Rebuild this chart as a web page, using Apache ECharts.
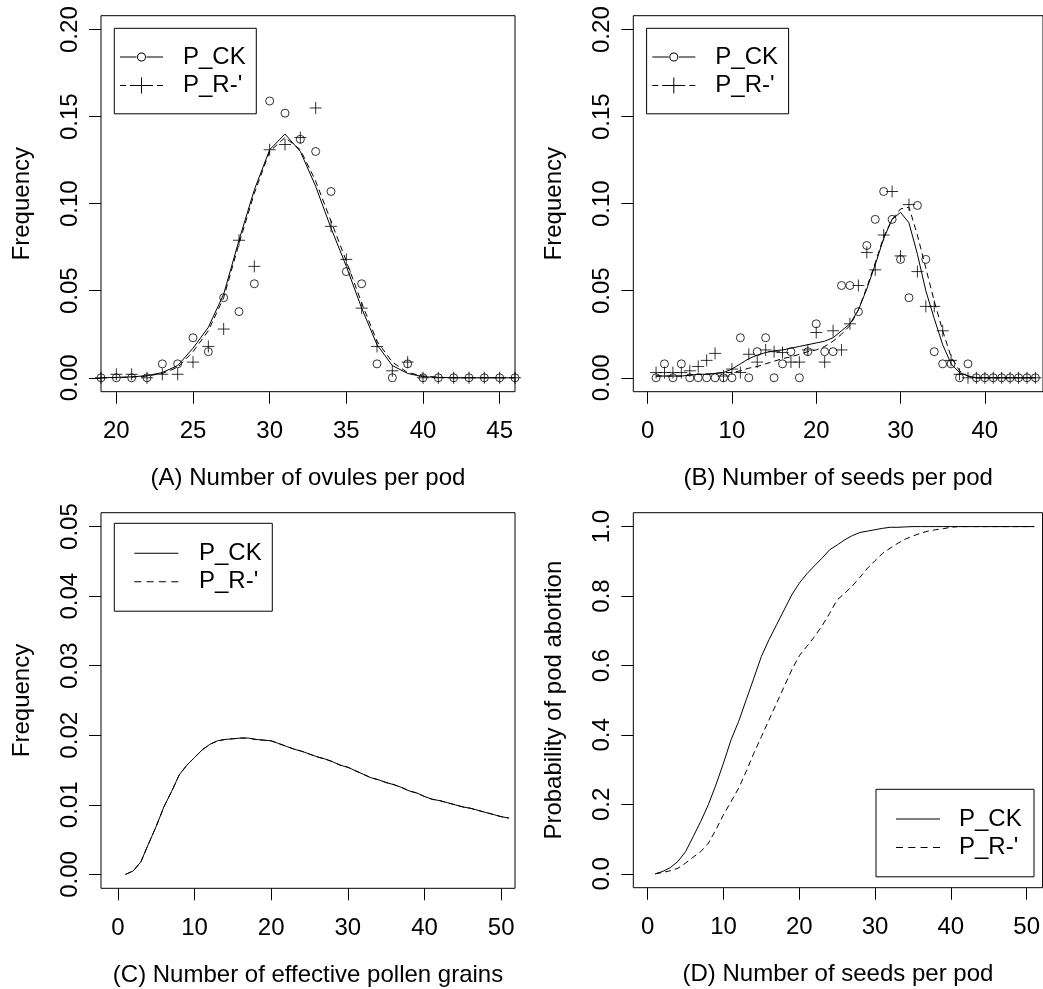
<!DOCTYPE html>
<html><head><meta charset="utf-8">
<script src="https://cdn.jsdelivr.net/npm/echarts@6/dist/echarts.min.js"></script>
<style>html,body{margin:0;padding:0;background:#fff}#c{width:1043px;height:989px}</style>
</head><body><div id="c"></div><script>
// ---------- DATA ----------
const ovuleX = [19,20,21,22,23,24,25,26,27,28,29,30,31,32,33,34,35,36,37,38,39,40,41,42,43,44,45,46];
const ovuleObsCK = [0,0,0,0,0.008,0.008,0.023,0.015,0.046,0.038,0.054,0.159,0.152,0.137,0.130,0.107,0.061,0.054,0.008,0,0.008,0,0,0,0,0,0,0];
const ovuleObsR  = [0,0.002,0.002,0,0.002,0.002,0.009,0.018,0.028,0.079,0.064,0.131,0.134,0.138,0.155,0.087,0.068,0.040,0.018,0.004,0.009,0,0,0,0,0,0,0];
const ovuleFitCK = [0,0.0002,0.0005,0.0012,0.003,0.007,0.017,0.029,0.048,0.079,0.108,0.131,0.140,0.130,0.110,0.086,0.064,0.040,0.019,0.007,0.0025,0.0006,0.0002,0,0,0,0,0];
const ovuleFitR  = [0,0.0001,0.0004,0.001,0.0025,0.006,0.015,0.027,0.046,0.077,0.106,0.130,0.138,0.131,0.113,0.090,0.067,0.043,0.021,0.009,0.003,0.001,0.0003,0,0,0,0,0];

const seedX = [1,2,3,4,5,6,7,8,9,10,11,12,13,14,15,16,17,18,19,20,21,22,23,24,25,26,27,28,29,30,31,32,33,34,35,36,37,38,39,40,41,42,43,44,45,46];
const seedObsCK = [0,0.008,0,0.008,0,0,0,0,0,0,0.023,0,0.015,0.023,0,0.008,0.015,0,0.015,0.031,0.015,0.015,0.053,0.053,0.038,0.076,0.091,0.107,0.091,0.068,0.046,0.099,0.068,0.015,0.008,0.008,0,0.008,0,0,0,0,0,0,0,0];
const seedObsR  = [0.003,0.003,0.003,0.003,0.004,0.0065,0.010,0.014,0.001,0.005,0.003,0.0135,0.009,0.016,0.015,0.0145,0.009,0.009,0.016,0.026,0.009,0.027,0.016,0.031,0.053,0.072,0.062,0.082,0.107,0.070,0.0995,0.061,0.041,0.041,0.027,0.010,0.002,0,0,0,0,0,0,0,0,0];
const seedFitCK = [0.001,0.001,0.001,0.001,0.0015,0.002,0.002,0.0025,0.003,0.005,0.008,0.011,0.013,0.0145,0.0155,0.016,0.017,0.018,0.019,0.020,0.021,0.023,0.027,0.031,0.039,0.051,0.065,0.080,0.091,0.095,0.089,0.071,0.050,0.034,0.019,0.008,0.003,0.001,0,0,0,0,0,0,0,0];
const seedFitR  = [0.001,0.001,0.001,0.001,0.0015,0.002,0.002,0.0025,0.003,0.003,0.004,0.0055,0.0065,0.008,0.0095,0.011,0.012,0.0135,0.015,0.016,0.018,0.021,0.025,0.030,0.039,0.052,0.066,0.081,0.091,0.097,0.098,0.082,0.063,0.044,0.027,0.012,0.004,0.001,0,0,0,0,0,0,0,0];

const pollenX = [1,2,3,4,5,6,7,8,9,10,11,12,13,14,15,16,17,18,19,20,21,22,23,24,25,26,27,28,29,30,31,32,33,34,35,36,37,38,39,40,41,42,43,44,45,46,47,48,49,50,51];
const pollenCK = [0,0.0005,0.0018,0.0044,0.0069,0.0097,0.0119,0.0143,0.0157,0.0168,0.0179,0.0187,0.0192,0.0194,0.0195,0.0196,0.0196,0.0194,0.0193,0.0192,0.0188,0.0184,0.0180,0.0177,0.0173,0.0169,0.0166,0.0162,0.0157,0.0154,0.0149,0.0144,0.0139,0.0136,0.0132,0.0129,0.0125,0.0120,0.0117,0.0112,0.0108,0.0106,0.0103,0.0100,0.0097,0.0095,0.0092,0.0089,0.0086,0.0083,0.0081];
const pollenR  = [0,0.0005,0.0018,0.0044,0.0069,0.0097,0.0119,0.0143,0.0157,0.0168,0.0179,0.0187,0.0192,0.0194,0.0195,0.0196,0.0196,0.0194,0.0193,0.0192,0.0188,0.0184,0.0180,0.0177,0.0173,0.0169,0.0166,0.0162,0.0157,0.0154,0.0149,0.0144,0.0139,0.0136,0.0132,0.0129,0.0125,0.0120,0.0117,0.0112,0.0108,0.0106,0.0103,0.0100,0.0097,0.0095,0.0092,0.0089,0.0086,0.0083,0.0081];

const abortX = [1,2,3,4,5,6,7,8,9,10,11,12,13,14,15,16,17,18,19,20,21,22,23,24,25,26,27,28,29,30,31,32,33,34,35,36,37,38,39,40,41,42,43,44,45,46,47,48,49,50,51];
const abortCK = [0,0.007,0.018,0.036,0.064,0.107,0.151,0.199,0.256,0.319,0.386,0.439,0.501,0.563,0.626,0.674,0.717,0.760,0.803,0.837,0.864,0.887,0.909,0.933,0.947,0.962,0.974,0.983,0.987,0.991,0.995,0.998,0.998,0.999,1,1,1,1,1,1,1,1,1,1,1,1,1,1,1,1,1];
const abortR  = [0,0.004,0.009,0.016,0.031,0.048,0.064,0.088,0.127,0.170,0.208,0.247,0.295,0.347,0.395,0.443,0.491,0.539,0.587,0.628,0.655,0.683,0.714,0.750,0.789,0.808,0.829,0.854,0.880,0.902,0.923,0.938,0.952,0.964,0.973,0.981,0.987,0.991,0.994,0.998,1,1,1,1,1,1,1,1,1,1,1];

const ticksAx = [20,25,30,35,40,45];
const ticksBx = [0,10,20,30,40];
const ticksCDx = [0,10,20,30,40,50];
const ticksABy = [0,0.05,0.10,0.15,0.20];
const ticksCy = [0,0.01,0.02,0.03,0.04,0.05];
const ticksDy = [0,0.2,0.4,0.6,0.8,1.0];

const seriesNames = ['P_CK', "P_R-'"];
const titles = ['(A) Number of ovules per pod','(B) Number of seeds per pod','(C) Number of effective pollen grains','(D) Number of seeds per pod'];
const yTitles = ['Frequency','Frequency','Frequency','Probability of pod abortion'];

// ---------- CHART ----------
const font = 'Liberation Sans, Arial, sans-serif';
const pairs = (xs, ys) => xs.map((x, i) => [x, ys[i]]);
const DASH = [6, 4];

function xAx(g, min, max, ticks, name) {
  return { type:'value', gridIndex:g, min:min, max:max, name:name, nameLocation:'middle', nameGap:75,
    nameTextStyle:{fontSize:24, fontFamily:font, color:'#000'},
    axisLine:{show:false, onZero:false}, splitLine:{show:false},
    axisTick:{show:true, length:12, customValues:ticks, lineStyle:{color:'#000', width:1}},
    axisLabel:{customValues:ticks, margin:28, fontSize:24, fontFamily:font, color:'#000'} };
}
function yAx(g, min, max, ticks, name, dec) {
  return { type:'value', gridIndex:g, min:min, max:max, name:name, nameLocation:'middle', nameGap:67, nameRotate:90,
    nameTextStyle:{fontSize:24, fontFamily:font, color:'#000'},
    axisLine:{show:false, onZero:false}, splitLine:{show:false},
    axisTick:{show:true, length:12, customValues:ticks, lineStyle:{color:'#000', width:1}},
    axisLabel:{customValues:ticks, rotate:90, margin:19, fontSize:24, fontFamily:font, color:'#000',
      formatter: v => Number(v).toFixed(dec)} };
}
function lineS(name, g, xs, ys, dashed) {
  return { type:'line', name:name, xAxisIndex:g, yAxisIndex:g, data:pairs(xs, ys), showSymbol:false, symbol:'none',
    silent:true, itemStyle:{color:'#000'}, lineStyle:{color:'#000', width:1, type: dashed ? DASH : 'solid'} };
}
const circleItem = {color:'transparent', borderColor:'#000', borderWidth:1};
function scatS(name, g, xs, ys, plus) {
  return { type:'scatter', name:name, xAxisIndex:g, yAxisIndex:g, data:pairs(xs, ys), silent:true,
    symbol: plus ? 'path://M0,6L12,6M6,0L6,12' : 'circle', symbolSize: plus ? 12 : 8, itemStyle:circleItem };
}
const iconCK = 'path://M0,6.5h16.5v1h-16.5z M26.5,6.5h16.5v1h-16.5z M17,7a4.5,4.5 0 1,0 9,0a4.5,4.5 0 1,0 -9,0z M18,7a3.5,3.5 0 1,1 7,0a3.5,3.5 0 1,1 -7,0z';
const iconR = 'path://M0,6.5h6v1h-6z M10,6.5h5v1h-5z M28,6.5h5v1h-5z M37,6.5h6v1h-6z M13.5,6.5h16v1h-16z M21,-1h1v16h-1z';
const iconLine = 'path://M0,0h44v1h-44z';
const iconDash = 'path://M0,0h7v1h-7z M12.3,0h7v1h-7z M24.6,0h7v1h-7z M37,0h7v1h-7z';

function legend(left, top, padding, iw, textPad, icons) {
  return { left:left, top:top, orient:'vertical', padding:padding, itemGap:0, itemWidth:iw, itemHeight:28.5,
    borderColor:'#000', borderWidth:1, borderRadius:0, selectedMode:false,
    textStyle:{fontSize:24, fontFamily:font, color:'#000', lineHeight:28.5, padding:[0,0,0,textPad]},
    itemStyle:{color:'#000', borderWidth:0},
    data:[{name:seriesNames[0], icon:icons[0]}, {name:seriesNames[1], icon:icons[1]}] };
}

const grids = [
  {left:101, top:15.7, width:414, height:376},
  {left:633.3, top:15.7, width:414, height:376},
  {left:101, top:512.7, width:414, height:375.6},
  {left:633.3, top:512.7, width:414, height:375}
].map(g => Object.assign({show:true, borderColor:'#000', borderWidth:1, backgroundColor:'transparent'}, g));

const option = {
  animation:false,
  backgroundColor:'#fff',
  grid: grids,
  xAxis: [
    xAx(0, 19, 46, ticksAx, titles[0]),
    xAx(1, -1.7, 46.9, ticksBx, titles[1]),
    xAx(2, -2.2, 51.8, ticksCDx, titles[2]),
    xAx(3, -1.9, 52.1, ticksCDx, titles[3])
  ],
  yAxis: [
    yAx(0, -0.008, 0.208, ticksABy, yTitles[0], 2),
    yAx(1, -0.008, 0.208, ticksABy, yTitles[1], 2),
    yAx(2, -0.002, 0.052, ticksCy, yTitles[2], 2),
    yAx(3, -0.04, 1.04, ticksDy, yTitles[3], 1)
  ],
  legend: [
    legend(114.3, 28.3, [14.5,10.6,14,5.7], 43, 15, [iconCK, iconR]),
    legend(646.6, 28.3, [14.5,10.6,14,5.7], 43, 15, [iconCK, iconR]),
    legend(114.3, 523.3, [15.8,10.6,15.1,20], 44, 15.7, [iconLine, iconDash]),
    legend(876, 789.3, [15.5,12.3,15,20], 44, 14, [iconLine, iconDash])
  ],
  series: [
    lineS(seriesNames[0], 0, ovuleX, ovuleFitCK, false),
    lineS(seriesNames[1], 0, ovuleX, ovuleFitR, true),
    scatS('P_CK obs', 0, ovuleX, ovuleObsCK, false),
    scatS("P_R-' obs", 0, ovuleX, ovuleObsR, true),
    lineS(seriesNames[0], 1, seedX, seedFitCK, false),
    lineS(seriesNames[1], 1, seedX, seedFitR, true),
    scatS('P_CK obs', 1, seedX, seedObsCK, false),
    scatS("P_R-' obs", 1, seedX, seedObsR, true),
    lineS(seriesNames[0], 2, pollenX, pollenCK, false),
    lineS(seriesNames[1], 2, pollenX, pollenR, true),
    lineS(seriesNames[0], 3, abortX, abortCK, false),
    lineS(seriesNames[1], 3, abortX, abortR, true)
  ]
};
const chart = echarts.init(document.getElementById('c'), null, {renderer:'canvas'});
chart.setOption(option);
</script></body></html>
